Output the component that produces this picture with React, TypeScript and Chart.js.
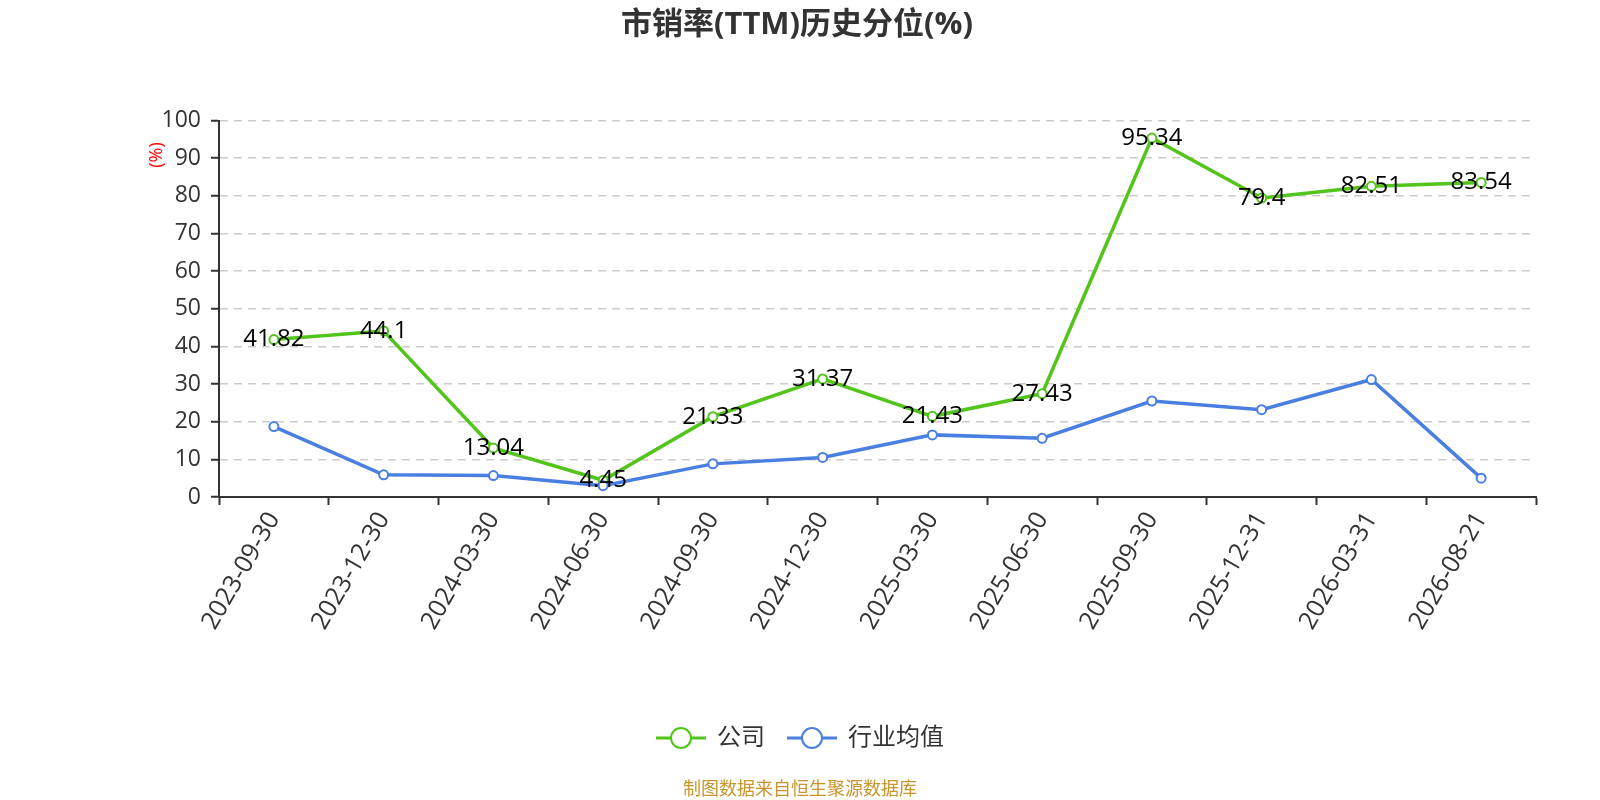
import React, { useEffect, useRef } from 'react';
import { Chart, registerables } from 'chart.js';

Chart.register(...registerables);

const categories = [
  '2023-09-30', '2023-12-30', '2024-03-30', '2024-06-30', '2024-09-30', '2024-12-30',
  '2025-03-30', '2025-06-30', '2025-09-30', '2025-12-31', '2026-03-31', '2026-08-21',
];
const companyValues = [41.82, 44.1, 13.04, 4.45, 21.33, 31.37, 21.43, 27.43, 95.34, 79.4, 82.51, 83.54];
const industryValues = [18.7, 5.9, 5.7, 3.0, 8.8, 10.5, 16.5, 15.6, 25.5, 23.2, 31.2, 5.0];
const seriesNames = ['公司', '行业均值'];
const seriesColors = ['#52C41A', '#4A7FE2'];
const titleText = '市销率(TTM)历史分位(%)';
const unitText = '(%)';
const sourceText = '制图数据来自恒生聚源数据库';
const yMin = 0;
const yMax = 100;
const yStep = 10;

const FONT = '"Open Sans", "Noto Sans CJK SC", sans-serif';

const decorPlugin = {
  id: 'decor',
  afterDatasetsDraw(chart: any) {
    const ctx = chart.ctx;
    const meta = chart.getDatasetMeta(0);
    ctx.save();
    ctx.font = `24px ${FONT}`;
    ctx.fillStyle = '#000';
    ctx.textAlign = 'center';
    ctx.textBaseline = 'middle';
    meta.data.forEach((pt: any, i: number) => {
      ctx.fillText(String(companyValues[i]), pt.x, pt.y);
    });
    ctx.restore();
  },
  afterDraw(chart: any) {
    const ctx = chart.ctx;
    const cx = chart.width / 2;
    ctx.save();
    ctx.font = `bold 31px ${FONT}`;
    ctx.fillStyle = '#333';
    ctx.textAlign = 'center';
    ctx.textBaseline = 'middle';
    ctx.fillText(titleText, cx - 3, 25);

    ctx.save();
    ctx.translate(157, 155);
    ctx.rotate(-Math.PI / 2);
    ctx.font = `18px ${FONT}`;
    ctx.fillStyle = '#FF0000';
    ctx.fillText(unitText, 0, 0);
    ctx.restore();

    ctx.font = `24px ${FONT}`;
    const lineW = 50;
    const gapText = 11;
    const gapItem = 22;
    const widths = seriesNames.map((n) => ctx.measureText(n).width);
    const total = widths.reduce((a, w) => a + lineW + gapText + w, 0) + gapItem * (seriesNames.length - 1);
    let x = cx - total / 2;
    const ly = 738;
    seriesNames.forEach((name, i) => {
      ctx.strokeStyle = seriesColors[i];
      ctx.lineWidth = 3;
      ctx.beginPath();
      ctx.moveTo(x, ly);
      ctx.lineTo(x + lineW, ly);
      ctx.stroke();
      ctx.beginPath();
      ctx.arc(x + lineW / 2, ly, 10, 0, Math.PI * 2);
      ctx.fillStyle = '#fff';
      ctx.fill();
      ctx.lineWidth = 2;
      ctx.stroke();
      ctx.fillStyle = '#333';
      ctx.textAlign = 'left';
      ctx.fillText(name, x + lineW + gapText, ly);
      x += lineW + gapText + widths[i] + gapItem;
    });

    ctx.font = `18px ${FONT}`;
    ctx.fillStyle = '#C8952C';
    ctx.textAlign = 'center';
    ctx.fillText(sourceText, cx, 790);
    ctx.restore();
  },
};

export default function App() {
  const canvasRef = useRef<HTMLCanvasElement | null>(null);

  useEffect(() => {
    if (!canvasRef.current) return;
    const chart = new Chart(canvasRef.current, {
      type: 'line',
      data: {
        labels: categories,
        datasets: [
          {
            label: seriesNames[0],
            data: companyValues,
            borderColor: seriesColors[0],
            backgroundColor: seriesColors[0],
            borderWidth: 3.5,
            pointRadius: 4.5,
            pointHoverRadius: 4.5,
            pointBorderWidth: 2,
            pointBackgroundColor: '#fff',
            pointBorderColor: seriesColors[0],
            tension: 0,
            order: 1,
          },
          {
            label: seriesNames[1],
            data: industryValues,
            borderColor: seriesColors[1],
            backgroundColor: seriesColors[1],
            borderWidth: 3.5,
            pointRadius: 4.5,
            pointHoverRadius: 4.5,
            pointBorderWidth: 2,
            pointBackgroundColor: '#fff',
            pointBorderColor: seriesColors[1],
            tension: 0,
            order: 0,
          },
        ],
      },
      options: {
        animation: false,
        responsive: true,
        maintainAspectRatio: false,
        devicePixelRatio: 1,
        layout: { padding: { left: 0, right: 64, top: 120.5, bottom: 0 } },
        plugins: {
          legend: { display: false },
          title: { display: false },
          tooltip: { enabled: false },
        },
        scales: {
          x: {
            type: 'category',
            offset: true,
            grid: {
              display: true,
              drawOnChartArea: false,
              drawTicks: true,
              tickLength: 8,
              tickColor: '#333',
              tickWidth: 2,
              offset: true,
            },
            border: { display: true, color: '#333', width: 2 },
            ticks: {
              color: '#333',
              font: { family: FONT, size: 25 },
              minRotation: 60,
              maxRotation: 60,
              autoSkip: false,
              padding: 2,
            },
            afterFit(scale: any) {
              scale.height = 303;
            },
          },
          y: {
            min: yMin,
            max: yMax,
            ticks: {
              stepSize: yStep,
              color: '#333',
              font: { family: FONT, size: 23 },
              padding: 10,
            },
            grid: {
              color: (c: any) => (c.tick && c.tick.value === 0 ? 'rgba(0,0,0,0)' : '#CCCCCC'),
              lineWidth: 1.5,
              tickColor: '#333',
              tickWidth: 2,
              tickLength: 8,
              tickBorderDash: [],
            },
            border: { display: true, color: '#333', width: 2, dash: [8, 6] },
            afterFit(scale: any) {
              scale.width = 219;
            },
          },
        },
      },
      plugins: [decorPlugin],
    });
    return () => chart.destroy();
  }, []);

  return (
    <div style={{ position: 'absolute', left: 0, top: 0, width: 1600, height: 800, background: '#fff' }}>
      <canvas ref={canvasRef} />
    </div>
  );
}
